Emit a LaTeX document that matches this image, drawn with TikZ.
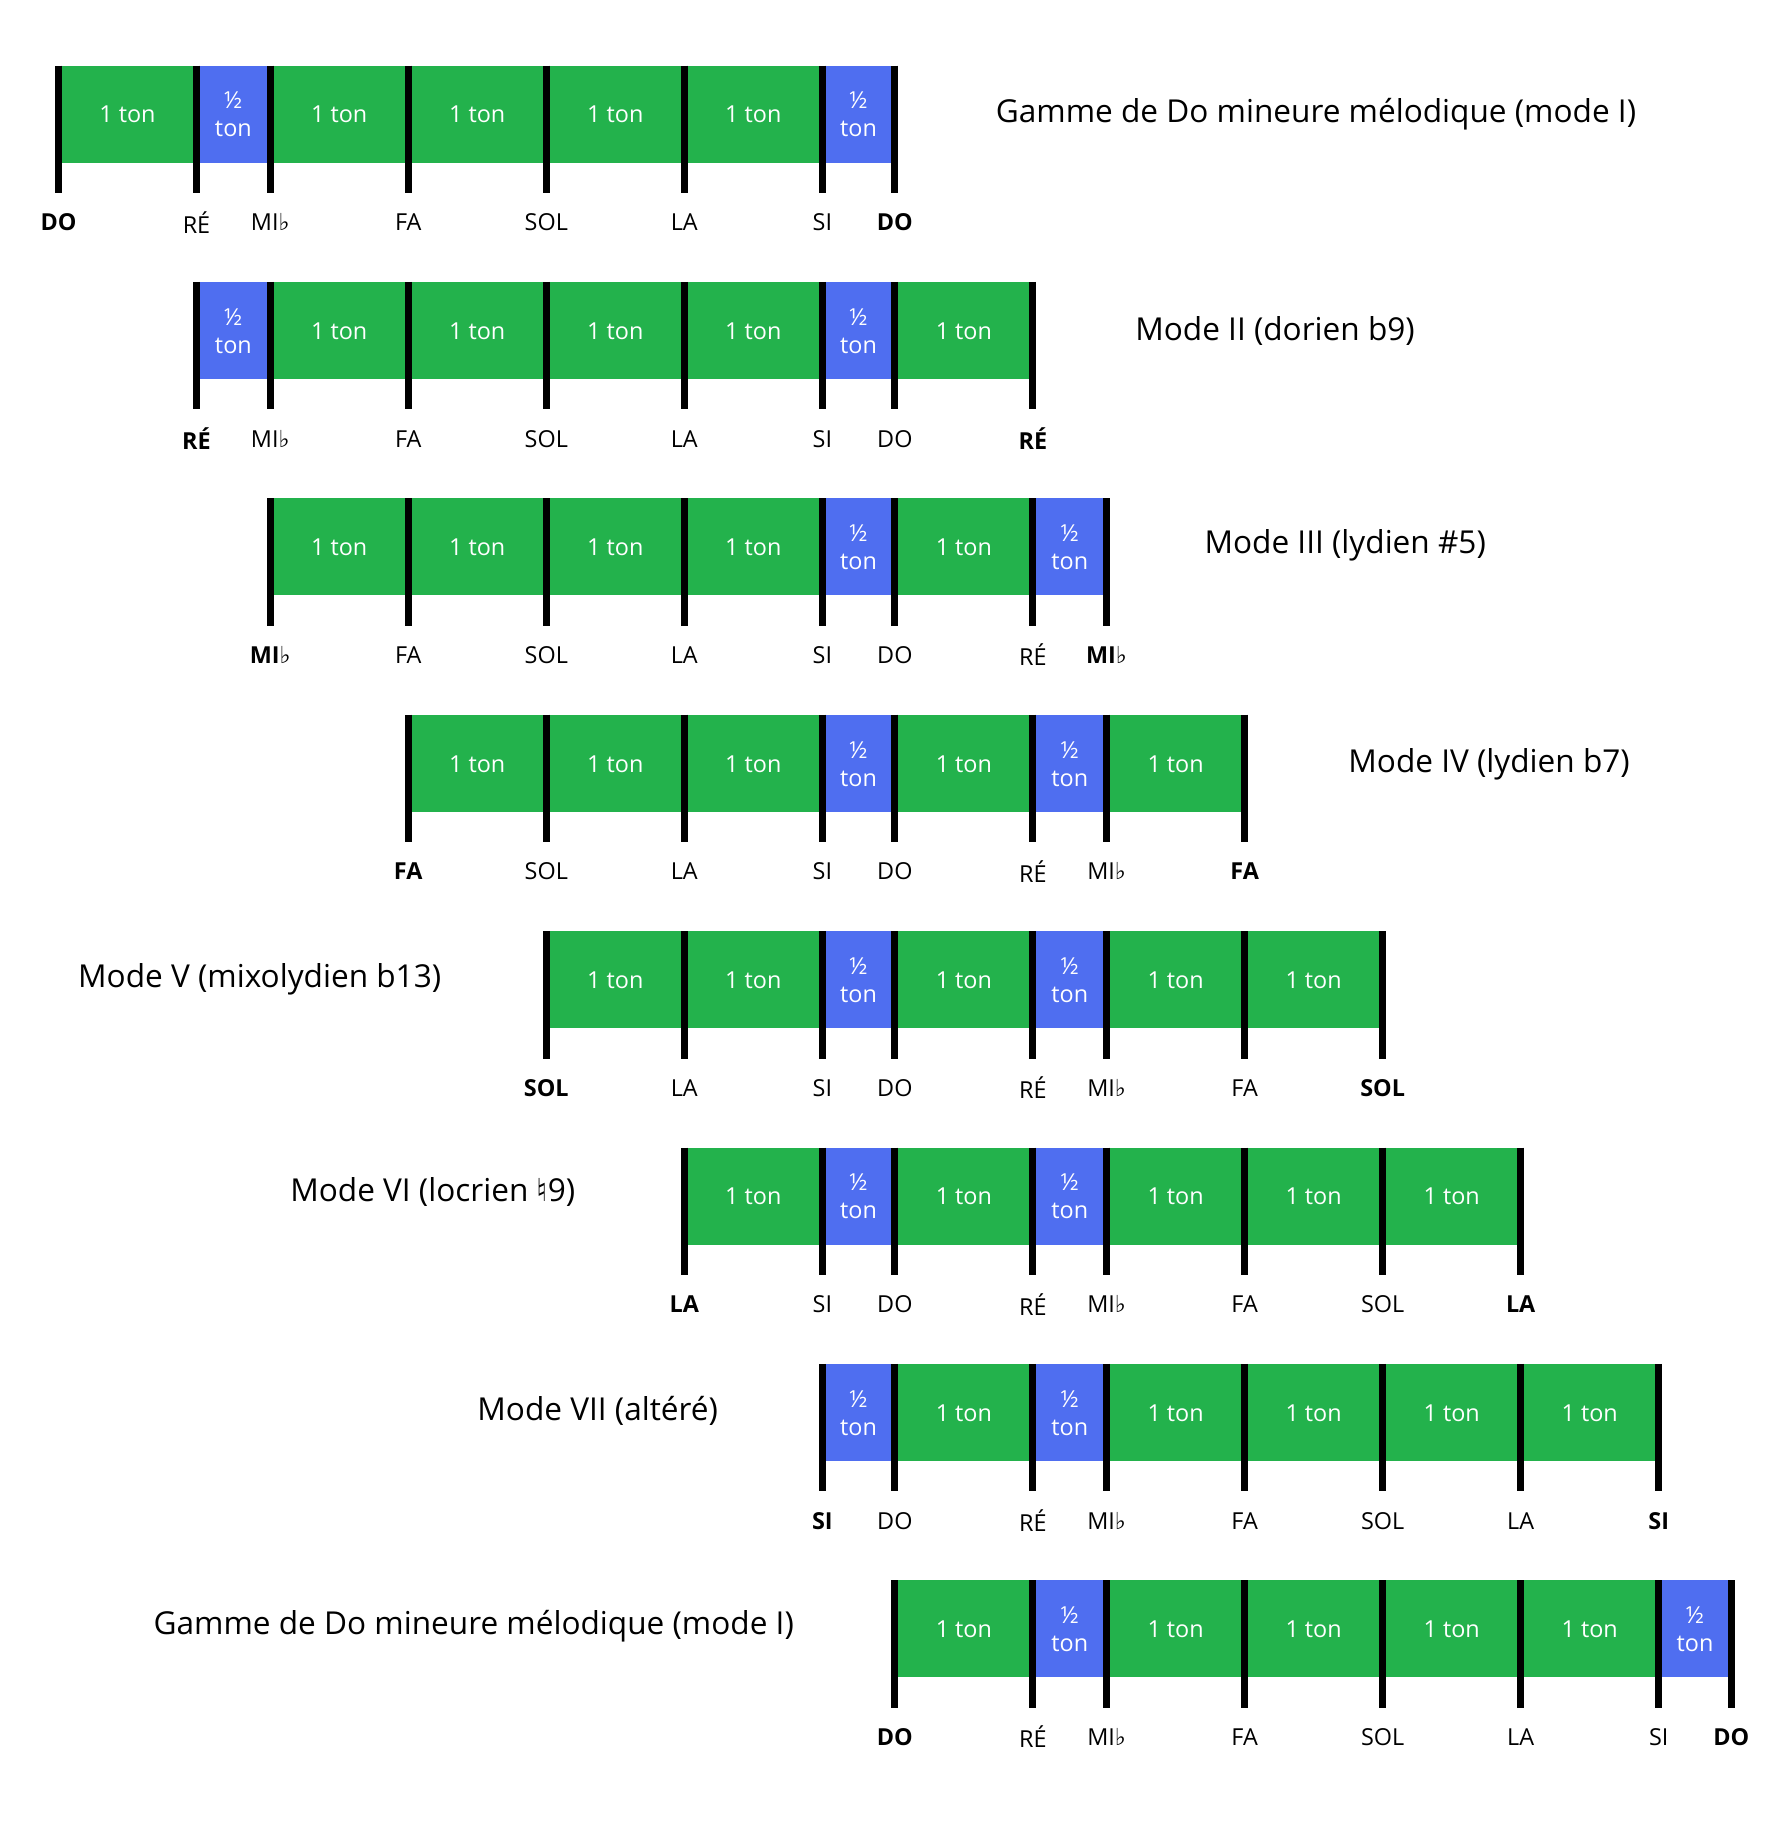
\documentclass[tikz,border=0pt]{standalone}
\usepackage{fontspec}
\setmainfont{Open Sans}
\newfontfamily\djv{DejaVu Sans}
\definecolor{tongreen}{HTML}{23B24C}
\definecolor{semiblue}{HTML}{4F6EF0}
\newcommand\flatsym{{\djv\char"266D}}
\newcommand\natsym{{\djv\char"266E}}
\newcommand\notename[1]{\ifcase#1 DO\or RÉ\or MI\flatsym\or FA\or SOL\or LA\or SI\fi}
\tikzset{
  ttl/.style={font=\fontsize{13.5}{15}\selectfont, text=black},
  blk/.style={text=white, font=\fontsize{10}{11}\selectfont, align=center},
  lbl/.style={font=\fontsize{10}{11}\selectfont, text=black},
  lblb/.style={font=\fontsize{10}{11}\selectfont\bfseries, text=black}
}
\begin{document}
\begin{tikzpicture}[x=0.5pt,y=-0.5pt]
\useasboundingbox (0,0) rectangle (1530,1567);
\def\P{{50,168,231,349,467,585,703,765,883,946,1064,1182,1300,1418,1480}}
\foreach \r in {0,...,7}{
  \pgfmathsetmacro\yt{56+185*\r}
  \pgfmathsetmacro\yb{\yt+83}
  \pgfmathsetmacro\ym{\yt+42}
  \pgfmathsetmacro\ybar{\yt+109}
  \pgfmathsetmacro\yl{\yt+134}
  \pgfmathtruncatemacro\re{\r+6}
  \foreach \i in {\r,...,\re}{
    \pgfmathsetmacro\xa{\P[\i]}
    \pgfmathsetmacro\xb{\P[\i+1]}
    \pgfmathtruncatemacro\m{mod(\i,7)}
    \pgfmathsetmacro\xc{(\xa+\xb)/2}
    \ifnum\m=1 \def\half{1}\else\ifnum\m=6 \def\half{1}\else\def\half{0}\fi\fi
    \ifnum\half=1
      \fill[semiblue] (\xa,\yt) rectangle (\xb,\yb);
      \node[blk] (b\r-\i) at (\xc,\yt+42) {½\\[1pt]ton};
    \else
      \fill[tongreen] (\xa,\yt) rectangle (\xb,\yb);
      \node[blk] (b\r-\i) at (\xc,\ym) {1 ton};
    \fi
  }
  \pgfmathtruncatemacro\rl{\r+7}
  \foreach \i in {\r,...,\rl}{
    \pgfmathsetmacro\xa{\P[\i]}
    \pgfmathtruncatemacro\m{mod(\i,7)}
    \draw[line width=3pt] (\xa,\yt) -- (\xa,\ybar);
    \ifnum\i=\r \def\lst{lblb}\else\ifnum\i=\rl \def\lst{lblb}\else\def\lst{lbl}\fi\fi
    \node[\lst] (n\r-\i) at (\xa,\yl) {\notename{\m}};
  }
}
\node[ttl] (t1) at (1125,98) {Gamme de Do mineure mélodique (mode I)};
\node[ttl] (t2) at (1090,283) {Mode II (dorien b9)};
\node[ttl] (t3) at (1150,466) {Mode III (lydien \#5)};
\node[ttl] (t4) at (1273,653) {Mode IV (lydien b7)};
\node[ttl] (t5) at (222,837) {Mode V (mixolydien b13)};
\node[ttl] (t6) at (370,1019) {Mode VI (locrien \natsym9)};
\node[ttl] (t7) at (511,1206) {Mode VII (altéré)};
\node[ttl] (t8) at (405,1390) {Gamme de Do mineure mélodique (mode I)};
\end{tikzpicture}
\end{document}
